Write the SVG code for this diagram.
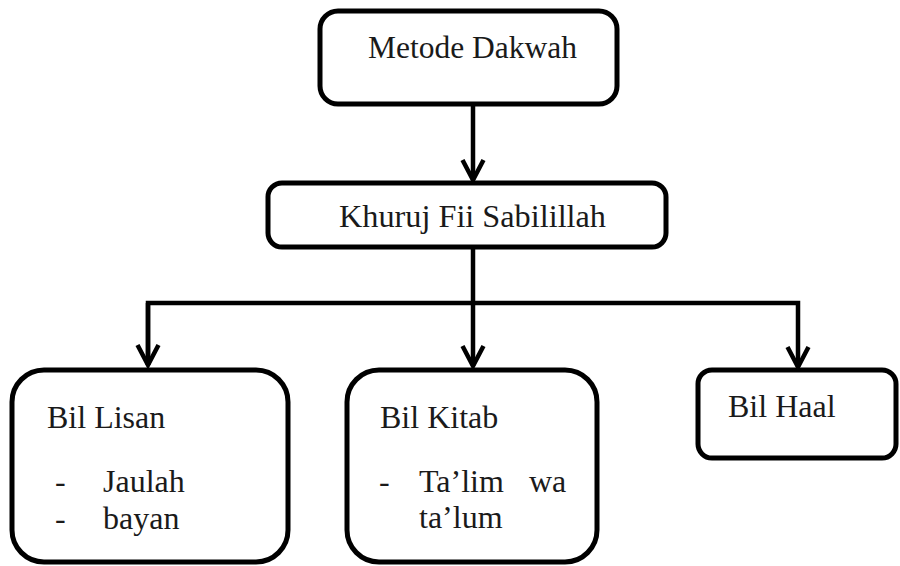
<svg xmlns="http://www.w3.org/2000/svg" width="900" height="566" viewBox="0 0 900 566">
<style>
  .box { fill: #ffffff; stroke: #000000; stroke-width: 5; }
  .lbl { font-family: "Liberation Serif", "Times New Roman", serif; font-size: 32px; fill: #1a1a1a; }
  .conn { fill: none; stroke: #000000; stroke-width: 4.5; }
</style>
<defs>
  <marker id="arr" viewBox="-24 -14 28 28" refX="0" refY="0" markerWidth="28" markerHeight="28" markerUnits="userSpaceOnUse" orient="auto">
    <path d="M -20 -10.5 L 0 0 L -20 10.5" fill="none" stroke="#000" stroke-width="4.5" stroke-linejoin="miter"/>
  </marker>
</defs>
<rect width="900" height="566" fill="#ffffff"/>
<g id="connectors">
  <path class="conn" d="M473 104 V180" marker-end="url(#arr)"/>
  <path class="conn" d="M473 247 V366" marker-end="url(#arr)"/>
  <path class="conn" d="M148 365 V303 H798 V367" marker-end="url(#arr)"/>
  <path class="conn" d="M148 303 V365" marker-end="url(#arr)"/>
</g>
<g id="metode">
  <rect class="box" x="320" y="11" width="297" height="93" rx="18"/>
  <text class="lbl" x="368" y="58" textLength="209" lengthAdjust="spacingAndGlyphs">Metode Dakwah</text>
</g>
<g id="khuruj">
  <rect class="box" x="268" y="183" width="398" height="64" rx="14"/>
  <text class="lbl" x="339" y="227" textLength="267" lengthAdjust="spacingAndGlyphs">Khuruj Fii Sabilillah</text>
</g>
<g id="lisan">
  <rect class="box" x="12" y="370" width="276" height="192" rx="32"/>
  <text class="lbl" x="47" y="428">Bil Lisan</text>
  <text class="lbl" x="55" y="492">-</text>
  <text class="lbl" x="103" y="492">Jaulah</text>
  <text class="lbl" x="55" y="529">-</text>
  <text class="lbl" x="103" y="529">bayan</text>
</g>
<g id="kitab">
  <rect class="box" x="347" y="370" width="250" height="192" rx="32"/>
  <text class="lbl" x="380" y="428">Bil Kitab</text>
  <text class="lbl" x="379" y="492">-</text>
  <text class="lbl" x="419" y="492">Ta’lim</text>
  <text class="lbl" x="529" y="492">wa</text>
  <text class="lbl" x="419" y="528">ta’lum</text>
</g>
<g id="haal">
  <rect class="box" x="698" y="370" width="198" height="88" rx="14"/>
  <text class="lbl" x="728" y="417">Bil Haal</text>
</g>
</svg>
